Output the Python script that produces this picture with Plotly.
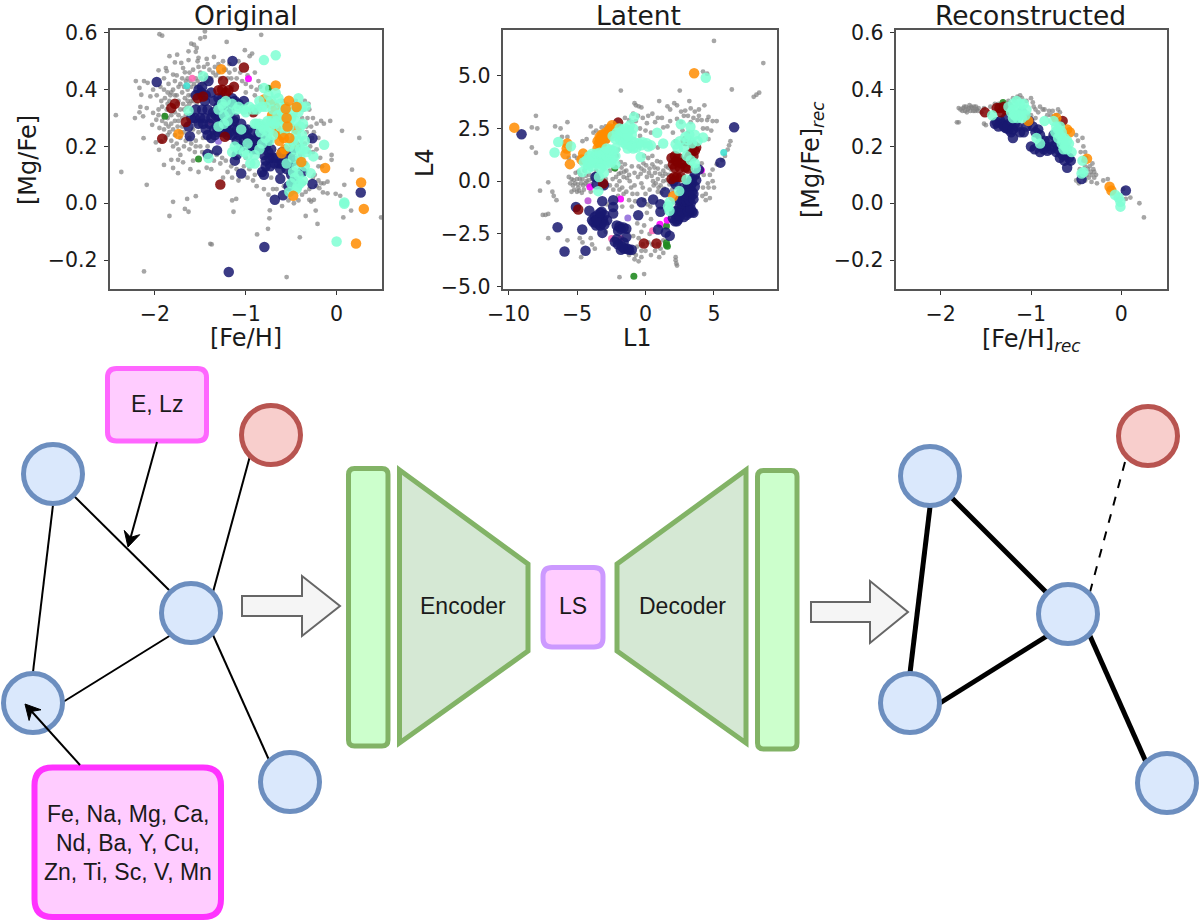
import math
import plotly.graph_objects as go

W, H = 1200, 922

# ---------- Panel 1: Original ([Fe/H], [Mg/Fe]) ----------
orig_gray = [(-2.12,-0.24),(-0.55,-0.26),(-1.375,-0.145),(-1.39,-0.143),(-2.43,0.31),(-2.37,0.11),(-2.09,0.065),(-1.8,0.005),(-1.84,-0.045),(-1.645,0.015),(-1.55,0.025),(-1.67,-0.02),(-1.63,-0.03),(-1.15,0.01),(-1.105,0.015),(-1.135,-0.03),(-0.875,-0.11),(-0.755,-0.09),(-0.735,-0.025),(-0.74,-0.053),(-0.405,-0.12),(-0.34,-0.045),(-0.21,-0.073),(-0.23,-0.026),(0.074,-0.05),(0.16,-0.026),(0.49,-0.05),(0.25,0.23),(0.06,0.255),(-0.07,0.29),(-0.14,0.28),(-0.17,0.29),(-0.055,0.17),(-0.055,0.153),(0.085,0.065),(0.17,0.118),(-0.01,0.033),(0.04,0.026),(-0.15,0.038),(-0.1,0.035),(-0.14,0.07),(-0.1,0.076),(-0.19,0.053),(-0.25,0.012),(-0.3,0.012),(-0.28,0.006),
(-1.95,0.595),(-1.92,0.59),(-1.45,0.605),(-1.5,0.58),(-1.45,0.585),(-1.21,0.568),(-0.83,0.593),(-1.6,0.562),(-1.57,0.558),(-1.54,0.547),(-1.55,0.533),(-1.63,0.535),(-1.755,0.523),(-1.84,0.518),(-1.01,0.539),(-0.93,0.527),(-0.957,0.518),(-1.35,0.515),(-1.43,0.508),(-1.52,0.512),(-1.53,0.5),(-1.63,0.504),(-1.71,0.494),(-1.78,0.496),(-1.88,0.476),(-1.96,0.468),(-1.87,0.465),(-1.8,0.453),(-1.69,0.476),(-1.67,0.461),(-2.21,0.43),(-2.12,0.43),(-2.17,0.406),(-2.08,0.424),(-2.02,0.4),(-2.15,0.382),(-2.05,0.376),(-2.16,0.339),(-2.09,0.335),(-2.17,0.32),(-2.22,0.3),(-2.13,0.306),(-2.02,0.318),(-1.985,0.294),(-2.03,0.276),(-1.95,0.265),(-2.125,0.229),(-1.99,0.214),(-1.93,0.218),(-1.955,0.188),(-1.9,0.135),(-1.82,0.153),(-1.745,0.153),(-1.69,0.144),(-1.8,0.124),(-1.745,0.106),(-1.61,0.12),(-1.52,0.11),(-1.43,0.125),
(-1.98,0.38),(-1.94,0.41),(-1.9,0.44),(-1.85,0.42),(-1.82,0.39),(-1.78,0.43),(-1.74,0.41),(-1.7,0.44),(-1.66,0.43),(-1.62,0.46),(-1.58,0.47),(-1.55,0.44),(-1.5,0.46),(-1.46,0.48),(-1.4,0.47),(-1.36,0.46),(-1.3,0.49),(-1.25,0.5),(-1.18,0.46),(-1.12,0.47),(-1.08,0.5),(-1.04,0.43),(-0.98,0.45),(-0.9,0.46),(-0.86,0.43),(-0.84,0.41),
(-1.93,0.36),(-1.89,0.37),(-1.86,0.35),(-1.83,0.38),(-1.78,0.38),(-1.74,0.36),(-1.7,0.39),(-1.67,0.37),(-1.63,0.38),(-1.6,0.41),(-1.56,0.39),(-1.72,0.33),(-1.69,0.35),(-1.65,0.34),(-1.62,0.35),(-1.58,0.36),(-1.9,0.31),(-1.86,0.3),(-1.82,0.31),(-1.78,0.29),(-1.74,0.31),(-1.7,0.3),(-1.75,0.27),(-1.8,0.26),(-1.85,0.27),(-1.9,0.26),(-1.88,0.23),(-1.82,0.22),(-1.78,0.24),(-1.72,0.23),(-1.68,0.25),(-1.62,0.23),(-1.58,0.26),(-1.55,0.22),(-1.68,0.2),(-1.62,0.19),(-1.56,0.18),(-1.74,0.19),(-1.8,0.2),(-1.5,0.2),(-1.47,0.23),(-1.45,0.17),(-1.35,0.15),(-1.28,0.14),(-1.2,0.11),(-1.25,0.09),(-1.15,0.09),(-1.08,0.08),(-0.98,0.09),(-0.92,0.08),(-0.88,0.06),(-0.85,0.11),
(-0.3,0.33),(-0.26,0.3),(-0.22,0.28),(-0.25,0.25),(-0.2,0.23),(-0.3,0.18),(-0.22,0.19),(-0.18,0.16),(-0.16,0.13),(-0.2,0.13),(-0.24,0.1),(-0.26,0.09),(-0.2,0.08),(-0.17,0.07),(-0.22,0.06),(-0.3,0.05),(-0.34,0.04),(-0.38,0.03),(-0.42,0.01),(-0.47,0.0),(-0.53,0.01),(-0.6,-0.01),(-0.66,0.05),(-0.58,0.06),(-0.36,0.07),(-0.75,0.03),(-0.8,0.05),(-1.0,0.16),(-1.15,0.41),(-1.2,0.44),(-1.0,0.39),(-0.9,0.38),(-0.75,0.36),(-0.6,0.36),(-0.45,0.36),(-0.4,0.35),(-0.38,0.3),(-0.33,0.27),(-0.3,0.22),(-0.35,0.21),(-0.34,0.14),(-0.4,0.17),
(-1.96,0.33),(-1.92,0.34),(-1.87,0.33),(-1.84,0.36),(-1.8,0.4),(-1.76,0.38),(-1.72,0.42),(-1.68,0.41),(-1.64,0.4),(-1.61,0.43),(-1.57,0.42),(-1.53,0.43),(-1.49,0.44),(-1.44,0.45),(-1.38,0.44),(-1.33,0.45),(-1.28,0.44),(-1.22,0.47),(-1.16,0.44),(-1.1,0.44),(-1.06,0.46),(-1.0,0.42),(-0.94,0.41),(-0.88,0.4),(-1.24,0.47),(-1.3,0.46),(-1.42,0.49),(-1.48,0.42),(-1.54,0.41),(-1.6,0.38),(-1.54,0.35),(-1.6,0.33),(-1.66,0.31),(-1.63,0.28),(-1.59,0.31),(-1.55,0.28),(-1.52,0.25),(-1.7,0.27),(-1.72,0.25),(-1.76,0.21),(-1.66,0.22),(-1.6,0.21),(-1.55,0.2),(-1.48,0.18),(-1.42,0.2),(-1.38,0.18),(-1.32,0.17),(-1.26,0.16),(-1.22,0.15),(-1.16,0.13),(-1.1,0.12),(-1.02,0.13),(-0.96,0.12),(-0.9,0.1),(-1.84,0.25),(-1.78,0.32),(-1.74,0.29),(-1.92,0.29),(-1.88,0.28),(-1.96,0.31),(-1.82,0.28),(-1.86,0.24),(-1.76,0.35),(-1.68,0.33),(-1.64,0.36),(-1.6,0.36),
(-0.32,0.3),(-0.28,0.27),(-0.27,0.23),(-0.29,0.2),(-0.26,0.18),(-0.33,0.25),(-0.36,0.33),(-0.31,0.35),(-0.35,0.36),(-1.9,0.4),(-1.86,0.39),(-1.76,0.45),(-1.64,0.44),(-1.52,0.48),(-1.42,0.43),(-1.34,0.48),(-1.18,0.49),(-1.72,0.17),(-1.58,0.15),(-1.38,0.12),(-0.7,0.05),(-0.72,0.09)]
orig_navy = [(-1.98,0.427),(-1.146,0.501),(-1.615,0.236),(-1.63,0.27),(-1.42,0.173),(-1.316,0.186),(-1.05,0.105),(-0.68,0.012),(-0.59,0.028),(-0.795,-0.154),(-1.187,-0.242),(0.266,0.038),(-0.266,0.068),(-0.266,0.229),(-0.62,0.086),(-1.52,0.4),(-1.49,0.39),(-1.41,0.43),(-1.38,0.39),(-1.3,0.37),(-1.45,0.36),(-1.55,0.33),(-1.5,0.3),(-1.6,0.3),(-1.45,0.3),(-1.4,0.28),(-1.35,0.26),(-1.38,0.23),(-1.3,0.3),(-1.25,0.33),(-1.15,0.37),(-1.08,0.35),(-1.2,0.28),(-1.15,0.27),(-1.1,0.26),(-1.2,0.24),(-1.1,0.22),(-1.0,0.24),(-1.05,0.2),(-0.95,0.2),(-0.98,0.26),(-0.92,0.25),(-0.85,0.27),(-0.83,0.22),(-0.78,0.2),(-0.8,0.17),(-0.78,0.15),(-0.73,0.13),(-0.68,0.14),(-0.63,0.14),(-0.82,0.11),(-0.8,0.1),(-0.6,0.18),(-0.55,0.16),(-0.5,0.18),(-0.45,0.2),(-1.12,0.15),(-1.1,0.17),(-1.3,0.34),(-1.25,0.25),(-1.42,0.33),(-1.33,0.31),(-1.47,0.28),(-1.36,0.32),(-1.28,0.28),(-1.23,0.3),(-1.18,0.33),(-1.12,0.3),(-1.05,0.28),(-1.02,0.22),(-0.9,0.22),(-0.88,0.19),(-0.75,0.18),(-0.7,0.16),(-0.5,0.1),(-0.47,0.08),(-0.38,0.11),(-0.55,0.12),(-0.53,0.06),
(-1.55,0.38),(-1.48,0.41),(-1.44,0.38),(-1.35,0.36),(-1.26,0.37),(-1.2,0.36),(-1.12,0.36),(-1.02,0.36),(-1.56,0.3),(-1.52,0.28),(-1.48,0.33),(-1.38,0.3),(-1.44,0.26),(-1.42,0.24),(-1.32,0.27),(-1.34,0.24),(-1.3,0.25),(-1.26,0.29),(-1.22,0.27),(-1.18,0.25),(-1.15,0.24),(-1.13,0.29),(-1.08,0.24),(-1.05,0.25),(-1.02,0.26),(-0.97,0.23),(-0.93,0.22),(-0.92,0.19),(-0.86,0.24),(-0.8,0.24),(-0.76,0.22),(-0.74,0.16),(-0.72,0.19),(-0.78,0.13),(-0.66,0.16),(-0.6,0.14),(-0.56,0.14),(-0.52,0.14),(-0.47,0.15),(-0.62,0.12)]
orig_maroon = [(-1.02,0.478),(-1.78,0.35),(-1.82,0.335),(-1.66,0.286),(-1.92,0.227),(-1.28,0.066),(-1.23,0.234),(-0.917,0.32),(-1.25,0.43),(-1.3,0.398),(-1.19,0.398),(-1.13,0.41),(-1.53,0.37),(-1.47,0.376),(-1.22,0.39),(-1.26,0.4)]
orig_orange = [(-1.74,0.244),(-0.67,0.415),(-0.126,0.124),(0.27,0.073),(0.3,-0.02),(0.214,-0.142),(-0.8,0.365),(-0.71,0.31),(-0.65,0.247),(-0.47,0.21),(-0.73,0.35),(-0.68,0.34),(-0.61,0.3),(-0.63,0.22),(-0.57,0.19),(-0.44,0.26),(-0.76,0.36),(-0.7,0.28),(-0.66,0.26),(-0.6,0.24)]
orig_aqua = [(-0.67,0.521),(-0.8,0.504),(-1.47,0.447),(-0.137,0.206),(-0.255,0.165),(-0.285,0.106),(0.085,0.003),(0.085,-0.002),(0,-0.135),(-1.41,0.159),(-1.63,0.326),(-0.8,0.406),(-0.67,0.388),(-0.34,0.341),(-1.24,0.31),(-1.24,0.28),(-1.26,0.35),(-1.22,0.36),(-1.15,0.35),(-1.08,0.34),(-1.02,0.33),(-0.96,0.34),(-0.88,0.33),(-0.82,0.34),(-1.05,0.26),(-0.85,0.28),(-0.82,0.27),(-0.78,0.28),(-0.75,0.25),(-0.72,0.29),(-0.68,0.28),(-0.65,0.31),(-0.62,0.27),(-0.58,0.3),(-0.55,0.28),(-0.5,0.3),(-0.45,0.29),(-0.42,0.32),(-0.4,0.27),(-0.38,0.24),(-0.45,0.24),(-0.48,0.22),(-0.35,0.22),(-0.33,0.18),(-0.4,0.19),(-0.48,0.16),(-0.44,0.13),(-0.42,0.1),(-0.4,0.07),(-0.43,0.06),(-0.5,0.07),(-0.48,0.11),(-0.55,0.14),(-1.12,0.2),(-1.15,0.18),(-1.08,0.19),(-0.98,0.17),(-0.95,0.14),(-0.9,0.14),(-0.85,0.19),(-0.7,0.33),(-0.62,0.35),(-0.56,0.34),(-0.75,0.38),
(-0.88,0.28),(-0.84,0.25),(-0.8,0.26),(-0.76,0.29),(-0.73,0.27),(-0.7,0.24),(-0.66,0.29),(-0.6,0.32),(-0.57,0.25),(-0.52,0.27),(-0.48,0.32),(-0.44,0.34),(-0.38,0.34),(-0.37,0.28),(-0.42,0.22),(-0.36,0.19),(-0.4,0.16),(-0.46,0.19),(-0.52,0.2),(-0.58,0.32),(-0.64,0.37),(-0.72,0.36),(-0.78,0.34),(-0.85,0.36),(-0.92,0.33),(-1.0,0.32),(-1.1,0.33),(-1.18,0.32),(-1.25,0.34),(-1.3,0.33),(-0.98,0.21),(-1.02,0.18),(-0.9,0.17),(-0.82,0.21),(-0.74,0.22),(-0.46,0.09),(-0.44,0.05),(-0.52,0.04),(-0.37,0.08),(-0.35,0.13),(-1.2,0.29),(-1.3,0.27),(-0.9,0.28),(-0.78,0.23),(-0.42,0.37)]
orig_orange_top = [(-1.27,0.472),(-0.477,0.026),(-0.388,0.145),(-0.606,0.176),(-0.525,0.361),(-0.44,0.339),(-0.56,0.333),(-0.54,0.27),(-0.58,0.23),(-0.52,0.23),(-0.55,0.3)]
orig_green = [(-1.89,0.306),(-1.52,0.156),(-0.75,0.405)]
orig_magenta = [(-0.97,0.438),(-0.72,0.165)]
orig_pink = [(-1.59,0.44),(-1.38,0.285)]
orig_turq = [(-1.65,0.414)]
orig_purple = [(-1.3,0.218)]

# ---------- Panel 2: Latent (L1, L4) ----------
lat_gray = [(5.0,6.65),(-1.8,4.3),(2.5,4.3),(6.3,4.35),(7.9,4.0),(8.1,4.1),(8.3,4.2),(8.6,5.6),(4.2,5.2),(4.5,5.1),(-8.0,3.1),(-8.3,2.55),(-7.9,2.5),(-8.3,1.6),(-8.0,1.35),(-6.6,2.6),(-6.2,2.5),(-6.1,2.1),(-5.7,2.1),(-5.7,2.8),(-5.6,1.1),(-5.2,1.2),(-5.0,1.1),
(-4.9,0.45),(-5.1,0.4),(-5.4,0.1),(-5.5,-0.1),(-5.3,-0.2),(-5.2,-0.4),(-5.4,-0.5),(-5.0,-0.5),(-4.9,-0.3),(-4.7,-0.1),(-4.6,0.1),(-4.5,-0.4),(-4.8,0.1),(-4.4,-0.1),(-5.0,0.1),(-4.3,0.0),(-4.1,0.3),(-3.9,0.1),(-3.6,0.5),(-4.2,-0.2),(-4.0,-0.5),
(-7.1,-0.05),(-7.7,-0.45),(-7.5,-1.6),(-7.3,-1.6),(-7.1,-1.55),(-6.8,-0.5),(-6.7,-0.7),(-6.5,-0.9),(-7.1,-2.7),(-5.7,-2.8),(-4.8,-2.7),(-4.6,-2.9),(-4.0,-2.7),(-3.9,-3.0),(-4.7,-3.6),(-3.7,-3.2),(-2.9,-2.4),(-1.9,-4.55),(-0.8,-3.7),(-0.5,-3.8),(-0.3,-3.6),(0.0,-3.3),(0.4,-3.5),(0.7,-3.3),(0.9,-3.0),(-0.1,-4.4),(2.2,-3.75),(2.25,-3.9),(2.3,-4.0),(2.2,-3.6),(1.0,-3.6),(1.3,-3.4),
(-1.0,2.8),(-0.8,3.7),(-0.7,3.6),(-0.5,3.55),(-0.3,3.5),(-0.9,3.2),(-0.55,3.1),(-0.2,3.0),(0.2,3.1),(0.5,3.2),(0.9,3.0),(1.2,3.0),(1.0,3.8),(1.6,3.55),(1.8,3.4),(2.1,3.7),(2.3,3.6),(2.6,3.3),(3.2,3.8),(3.3,3.45),(3.6,3.3),(3.9,3.4),(4.3,3.6),(2.8,3.1),(3.1,3.1),(3.5,3.0),(3.8,2.9),(4.1,2.9),(4.5,2.9),(4.9,2.85),(5.2,2.85),(2.6,2.8),(3.3,2.8),(4.5,2.5),(4.8,2.4),(4.6,2.0),(6.1,1.7),(6.2,1.9),(6.0,1.5),(5.8,1.2),(5.6,1.0),(5.2,0.8),(4.9,0.55),(4.7,0.3),(4.9,0.0),(5.0,-0.3),(4.6,-0.3),(4.4,-0.6),(4.4,-0.9),
(-3.0,1.9),(-3.3,2.3),(-3.8,2.3),(-4.0,2.6),(-2.9,2.6),(-4.3,2.0),(-4.6,1.9),(-2.4,1.3),(-2.0,1.5),(-2.1,1.2),(-1.8,0.9),(-1.5,0.8),(-1.8,0.4),(-1.6,0.2),(-1.9,0.0),(-2.1,-0.2),(-2.4,0.1),(-2.6,0.5),(-2.2,0.55),(-1.7,-0.3),(-1.4,-0.5),(-1.2,-0.9),(-1.0,-1.2),(-1.4,0.5),(-1.2,0.3),(-1.0,0.7),(-0.8,0.4),(-0.5,0.7),(-0.3,0.6),(-0.1,0.5),(0.1,0.2),(0.3,0.6),(0.5,0.8),(0.7,0.4),(0.9,0.6),(1.1,0.9),(1.3,0.5),(1.5,0.7),(1.7,0.3),(1.9,0.0),(0.9,0.1),(1.3,0.0),(0.6,-0.2),(0.3,-0.4),(0.0,-0.6),(-0.2,-0.3),(0.9,-0.5),(1.1,-0.2),(-0.6,-0.6),(-0.8,-0.2),(1.9,1.0),(2.2,1.9),(2.0,2.3),(1.6,2.6),(0.9,1.6),(0.4,2.3),(0.0,2.4),(-0.4,2.5),(-0.1,1.2),(0.2,1.1),(0.5,1.2),(-0.6,-2.0),(-0.3,-2.4),(0.1,-1.5),(0.4,-1.8),(0.3,-2.5),(-0.9,-2.6),(-0.6,-3.1),(-0.2,-3.0),(1.3,-2.8),(-2.7,-3.2),(-1.7,-1.2),(-1.3,-2.4),(-2.8,-1.1),(-3.3,-0.3),(-2.9,0.1),(3.8,0.2),(4.2,-0.3),(4.7,-0.8),(4.1,0.85),(2.7,2.4),(3.1,2.3),
(-5.6,0.2),(-5.25,0.05),(-5.15,-0.1),(-4.95,-0.15),(-4.75,0.3),(-4.55,-0.2),(-4.35,0.25),(-4.15,0.05),(-3.95,-0.15),(-3.75,0.3),(-3.55,0.2),(-4.85,-0.45),(-4.65,-0.55),(-4.45,0.5),(-2.6,-0.2),(-2.35,-0.4),(-2.15,0.2),(-1.95,0.35),(-1.75,0.65),(-1.55,0.45),(-1.35,0.15),(-1.15,0.0),(-1.05,-0.3),(-0.95,-0.6),(-0.75,-0.95),(-0.55,0.2),(-0.35,0.35),(-0.15,0.85),(0.05,0.75),(0.25,0.4),(0.45,0.25),(0.65,0.65),(0.85,0.95),(1.05,0.35),(1.25,0.25),(1.45,0.35),(1.65,0.65),(1.85,0.55),(0.55,0.0),(0.75,-0.1),(0.95,-0.3),(1.15,-0.55),(1.35,-0.35),(1.55,0.05),(1.75,-0.15),(-1.6,-0.6),(-1.9,-0.4),(-2.0,-0.7),(-0.3,-0.1),(-0.1,-0.9),(0.15,-1.1),(0.35,-1.2),(-0.4,2.15),(-0.7,2.85),(0.1,2.75),(0.7,2.8),(1.3,2.55),(1.8,2.85),(2.3,2.95),(2.9,3.35),(4.2,2.5),(4.6,3.05),(3.9,3.1),(-1.2,2.9),(-1.5,3.0),(-2.8,1.9),(-3.6,2.4),(-3.2,2.55),(-1.8,-2.8),(-0.5,-2.7),(-0.1,-2.1),(0.5,-3.0),(1.1,-3.2),(-1.2,-3.5),(-0.9,-3.4),(-0.7,-3.5),(-0.3,-3.3),(0.2,-2.9),(2.05,-1.0),(1.85,-1.5),(1.95,-0.4),(4.25,0.3),(4.55,-0.1),(4.15,-0.7)]
lat_navy = [(-9.05,2.23),(6.47,2.56),(5.47,0.88),(-5.08,-1.22),(-4.1,-1.4),(-6.42,-2.18),(-4.62,-2.29),(-5.91,-3.33),(-4.38,-3.3),(-3.16,-0.95),(-3.04,-0.19),(-3.65,0.2),(-3.57,-0.14),(-2.36,-0.9),(-2.36,-1.22),(-2.36,-1.53),(-0.29,-1.0),(-0.53,-1.61),(0.56,-0.87),(1.09,-1.09),(1.09,-1.45),(1.43,-0.52),(0.92,-2.29),(1.48,-2.43),(1.77,-2.59),(-2.24,-2.87),(-2.0,-3.0),(-1.8,-3.25),(-1.3,-3.2),(-1.0,-3.25),(-2.0,-2.35),(-1.8,-2.25),(-1.4,-2.25),(-1.4,-2.65),(-2.1,-2.1),
(-3.9,-1.85),(-3.7,-1.7),(-3.5,-1.6),(-3.3,-1.7),(-3.1,-1.85),(-3.5,-2.0),(-3.3,-2.1),(-3.6,-2.1),(-3.2,-1.45),(-3.0,-1.6),(-2.8,-1.85),(-3.15,-2.45),(-1.6,-2.9),(-1.55,-3.2),
(2.2,-1.6),(2.4,-1.8),(2.6,-1.5),(2.8,-1.7),(3.0,-1.6),(3.2,-1.5),(3.4,-1.45),(2.3,-1.4),(2.5,-1.2),(2.7,-1.2),(2.9,-1.1),(3.1,-1.2),(2.5,-0.9),(2.7,-0.8),(2.9,-0.7),(3.1,-0.8),(3.3,-0.75),(3.4,-0.5),(3.2,-0.35),(3.0,-0.4),(2.8,-0.3),(3.4,-0.1),(3.6,-0.25),(3.4,0.1),(3.7,0.05),(3.9,0.55),(2.6,-0.55),(2.3,-1.9),(2.0,-1.75),(2.9,-1.35),(3.5,-1.5),(3.3,-1.05),(2.2,-0.15),(2.05,0.0),
(2.1,-1.45),(2.15,-1.9),(2.5,-1.65),(2.7,-1.45),(3.1,-1.4),(3.3,-1.3),(2.6,-1.05),(2.8,-0.95),(3.0,-0.95),(3.2,-0.9),(3.0,-0.6),(3.2,-0.55),(3.5,-0.6),(3.5,-0.85),(3.3,-0.2),(3.1,-0.1),(3.6,0.3),(-3.8,-1.95),(-3.4,-1.85),(-3.2,-2.0),(-3.0,-2.05),(-3.6,-1.85),(-3.3,-1.5),(-1.2,-3.25),(-1.7,-3.1),(-2.1,-2.75),(-1.9,-2.15),(-1.6,-2.2)]
lat_maroon = [(-4.91,-1.34),(-0.12,-2.95),(0.8,-2.95),(-2,2.78),(2.94,1.91),(-3.09,-0.11),(1.9,1.1),(2.15,1.2),(2.25,0.95),(2.5,0.65),(2.9,0.65),(3.1,0.6),(3.5,1.2),(3.6,1.45),(3.7,1.6),(1.9,0.1),(2.3,0.2),(2.6,0.2),(2.15,0.65),(3.2,1.15),(2.6,0.85),(2.0,0.8),(2.4,1.1),(2.8,0.9),(3.3,1.3),(3.5,1.7),(2.1,0.2)]
lat_orange = [(-9.58,2.54),(3.55,5.12),(-5.71,1.79),(-5.84,1.28),(-5.52,0.81),(-4.55,1.31),(-4.67,1.03),(-3.5,1.55),(-3.4,1.8),(-3.3,2.0),(-3.2,1.7),(-3.1,2.1),(-3.0,2.2),(-2.9,2.3),(-2.7,2.4),(-2.6,2.5),(-2.45,2.65),(-2.8,2.2),(-3.4,1.4),(2.02,-0.71),(-5.75,1.55),(-3.5,1.9),(-3.2,2.2),(-2.9,2.0),(-2.6,2.2),(-3.35,2.1),(-2.35,2.45),(-2.1,2.5)]
lat_aqua = [(4.4,4.91),(-6.37,1.86),(-6.64,1.36),(-5.45,1.66),(-4.62,0.44),(-3.04,0.4),(-3.45,-0.47),(-4.5,0.9),(-4.3,1.0),(-4.1,1.2),(-4.0,0.95),(-3.9,1.3),(-3.7,1.1),(-3.6,0.85),(-3.5,1.2),(-3.3,1.05),(-3.1,1.15),(-2.9,1.0),(-2.7,1.15),(-2.4,1.1),(-2.2,1.2),(-2.2,0.8),(-4.2,0.6),(-3.0,1.4),(-0.83,3.05),(-1.14,2.65),(-1.9,2.5),(-1.7,2.4),(-1.4,2.3),(-1.2,2.4),(-1.6,2.15),(-1.4,1.95),(-1.2,1.75),(-1.0,1.9),(-1.3,1.55),(-0.8,1.85),(-0.5,1.8),(-0.2,1.85),(0.1,1.8),(0.4,1.7),(-0.35,1.15),(0.85,2.3),(1.29,1.79),(2.58,2.7),(3.28,2.58),(4.2,2.07),(2.2,1.75),(2.5,1.9),(2.8,1.6),(3.1,1.95),(3.4,1.8),(3.0,1.2),(3.3,1.0),(3.6,0.85),(2.99,0.08),(3.67,0.6),(2.46,-0.46),(1.77,-0.98),(1.65,-1.2),(-2.1,2.3),(1.75,-1.4),
(-4.2,0.8),(-3.95,0.7),(-3.75,0.9),(-3.5,0.95),(-3.25,0.8),(-3.0,0.75),(-2.75,0.85),(-2.5,0.9),(-3.85,1.05),(-3.6,1.3),(-3.35,1.35),(-3.15,1.3),(-2.85,1.2),(-2.6,1.35),(-2.35,1.45),(-2.2,1.55),(-2.6,1.5),(-2.85,1.55),(-1.9,2.2),(-1.85,1.95),(-1.65,1.85),(-1.45,1.75),(-1.05,1.65),(-0.9,1.55),(-0.65,1.6),(-0.3,1.7),(0.2,1.65),(-1.0,2.2),(-1.3,2.15),(-1.5,2.5),(-0.9,2.5),(-2.4,2.15),(-2.2,2.0),(2.35,1.55),(2.9,2.1),(3.2,2.2),(3.6,2.2),(3.8,1.9),(-3.3,0.6),(-3.4,0.2)]
lat_green = [(-0.85,-4.5),(1.53,-3.03),(1.6,-3.08),(1.53,-2.92),(1.53,-2.12),(-2.24,0.63)]
lat_magenta = [(-1.82,-0.84),(1.58,-1.85),(1.05,-2.04),(4.08,0.52),(-4.06,-0.27)]
lat_pink = [(0.51,-2.35),(-1.8,-2.73),(-2.48,-2.72)]
lat_turq = [(5.71,1.36)]
lat_purple = [(-1.29,-1.74)]
lat_orchid = [(-4.2,-0.93)]

# ---------- Panel 3: Reconstructed ----------
rec_gray = [(-1.75,0.335),(-1.73,0.325),(-1.72,0.34),(-1.7,0.33),(-1.68,0.345),(-1.67,0.325),(-1.65,0.335),(-1.63,0.34),(-1.62,0.325),(-1.6,0.33),(-1.58,0.335),(-1.78,0.33),(-1.82,0.285),(-1.8,0.285),(-1.55,0.32),(-1.52,0.335),(-1.4,0.35),(-1.36,0.35),(-1.3,0.35),(-1.2,0.37),(-1.15,0.375),(-1.12,0.38),(-1.1,0.37),(-1.05,0.36),(-1.0,0.37),(-0.98,0.355),(-0.95,0.33),(-0.9,0.34),(-0.87,0.33),(-0.85,0.33),(-0.8,0.325),(-0.76,0.325),(-0.72,0.31),(-1.03,0.31),(-1.0,0.31),(-0.95,0.3),(-1.5,0.275),(-1.52,0.28),(-0.5,0.24),(-0.48,0.22),(-0.43,0.23),(-0.42,0.2),(-0.45,0.18),(-0.4,0.18),(-0.39,0.16),(-0.35,0.13),(-0.32,0.14),(-0.31,0.12),(-0.3,0.11),(-0.33,0.1),(-0.28,0.1),(-0.3,0.09),(-0.36,0.09),(-0.38,0.1),(-0.4,0.08),(-0.33,0.075),(-0.27,0.07),(-0.2,0.08),(-0.15,0.085),(-0.5,0.08),(-0.47,0.07),(0.1,0.02),(0.05,0.015),(0.2,0.0),(0.25,-0.05),(0.02,0.05),(-0.75,0.3),(-0.7,0.33),(-0.68,0.32),
(-1.76,0.325),(-1.74,0.34),(-1.71,0.32),(-1.69,0.335),(-1.66,0.34),(-1.64,0.325),(-1.61,0.34),(-1.59,0.325),(-1.8,0.335),(-1.45,0.34),(-1.25,0.36),(-1.18,0.36),(-0.92,0.32),(-0.82,0.31),(-0.78,0.31),(-0.97,0.34),(-0.4,0.13),(-0.37,0.12),(-0.34,0.11),(-0.42,0.15),(-0.46,0.12)]
rec_navy = [(-1.4,0.28),(-1.36,0.27),(-1.32,0.28),(-1.28,0.265),(-1.25,0.26),(-1.22,0.25),(-1.2,0.23),(-1.18,0.28),(-1.12,0.25),(-1.08,0.25),(-1.02,0.29),(-0.98,0.27),(-0.92,0.26),(-0.9,0.24),(-0.85,0.22),(-1.0,0.2),(-0.96,0.19),(-0.88,0.2),(-0.83,0.2),(-0.78,0.19),(-0.75,0.24),(-0.72,0.18),(-0.68,0.16),(-0.62,0.17),(-0.58,0.16),(-0.56,0.15),(-0.6,0.125),(-0.44,0.085),(0.05,0.045),(-1.28,0.3),(-1.1,0.32),(-1.34,0.29),(-1.24,0.28),(-0.8,0.22),(-0.72,0.21),(-0.9,0.18),(-0.65,0.17),(-1.15,0.27),(-1.05,0.27),(-1.38,0.285),(-1.3,0.27),(-1.26,0.27),(-1.2,0.26),(-0.86,0.19),(-0.82,0.185),(-0.76,0.2),(-0.7,0.19),(-0.63,0.15),(-0.95,0.25)]
rec_maroon = [(-1.51,0.32),(-1.35,0.335),(-1.3,0.34),(-1.33,0.32),(-1.25,0.34),(-1.28,0.33),(-1.38,0.335),(-0.65,0.29)]
rec_orange = [(-1.03,0.29),(-0.6,0.26),(-0.57,0.25),(-0.38,0.157),(-0.13,0.058),(-0.11,0.045),(-0.72,0.3)]
rec_aqua = [(-1.43,0.31),(-1.25,0.34),(-1.2,0.35),(-1.15,0.33),(-1.12,0.35),(-1.1,0.32),(-1.05,0.33),(-1.18,0.31),(-1.1,0.3),(-1.15,0.3),(-1.22,0.32),(-0.85,0.29),(-0.75,0.29),(-0.7,0.26),(-0.68,0.24),(-0.65,0.22),(-0.62,0.2),(-0.6,0.19),(-0.58,0.21),(-0.55,0.18),(-0.72,0.27),(-0.66,0.25),(-0.63,0.23),(-0.94,0.23),(-0.9,0.21),(-0.43,0.15),(-0.42,0.11),(-0.44,0.105),(-0.07,0.03),(-0.03,0.02),(-0.01,0.005),(-0.01,-0.012),(-1.2,0.33),(-1.16,0.36),(-1.08,0.35),(-1.13,0.31),(-1.06,0.31),(-1.2,0.3),(-0.7,0.23),(-0.66,0.21),(-0.73,0.25),(-0.68,0.27),(-0.64,0.19),(-0.6,0.22)]
rec_green = [(-1.31,0.355)]

# ---------- Axis annotation text ----------
panel_titles = ["Original", "Latent", "Reconstructed"]
x_labels = ["[Fe/H]", "L1", "[Fe/H]<sub><i>rec</i></sub>"]
y_labels = ["[Mg/Fe]", "L4", "[Mg/Fe]<sub><i>rec</i></sub>"]
fe_ticks = [-2, -1, 0]
mg_ticks = [-0.2, 0.0, 0.2, 0.4, 0.6]
l1_ticks = [-10, -5, 0, 5]
l4_ticks = [-5.0, -2.5, 0.0, 2.5, 5.0]

FONT = "DejaVu Sans"
SANS = "Liberation Sans"
INK = "#1a1a1a"


def px(x):
    return x / W


def py(y):
    return 1 - y / H


fig = go.Figure()


def add_series(points, axis, color, size, opacity):
    fig.add_trace(go.Scatter(
        x=[p[0] for p in points], y=[p[1] for p in points], mode="markers",
        xaxis="x" + axis, yaxis="y" + axis, showlegend=False, hoverinfo="skip",
        marker=dict(color=color, size=size, opacity=opacity, line=dict(width=0)),
    ))


C_GRAY, C_NAVY, C_MAROON = "#808080", "#191970", "#800000"
C_ORANGE, C_AQUA, C_GREEN = "#ff8c00", "#7fffd4", "#228b22"
C_MAG, C_PINK, C_TURQ, C_PURP, C_ORCH = "#ff00ff", "#ff69b4", "#40e0d0", "#9370db", "#ba55d3"
BIG = 10.5

add_series(orig_gray, "", C_GRAY, 4.8, 0.7)
for pts, col in [(orig_green, C_GREEN), (orig_magenta, C_MAG), (orig_pink, C_PINK), (orig_turq, C_TURQ), (orig_purple, C_PURP)]:
    add_series(pts, "", col, 7, 0.9)
add_series(orig_navy, "", C_NAVY, BIG, 0.85)
add_series(orig_maroon, "", C_MAROON, BIG, 0.85)
add_series(orig_orange, "", C_ORANGE, BIG, 0.85)
add_series(orig_aqua, "", C_AQUA, BIG, 0.85)
add_series(orig_orange_top, "", C_ORANGE, BIG, 0.85)

add_series(lat_gray, "2", C_GRAY, 4.8, 0.7)
for pts, col in [(lat_green, C_GREEN), (lat_magenta, C_MAG), (lat_pink, C_PINK), (lat_turq, C_TURQ), (lat_purple, C_PURP), (lat_orchid, C_ORCH)]:
    add_series(pts, "2", col, 7, 0.9)
add_series(lat_navy, "2", C_NAVY, BIG, 0.85)
add_series(lat_maroon, "2", C_MAROON, BIG, 0.85)
add_series(lat_orange, "2", C_ORANGE, BIG, 0.85)
add_series(lat_aqua, "2", C_AQUA, BIG, 0.85)

add_series(rec_gray, "3", C_GRAY, 4.8, 0.7)
add_series(rec_green, "3", C_GREEN, 7, 0.9)
add_series(rec_navy, "3", C_NAVY, BIG, 0.85)
add_series(rec_maroon, "3", C_MAROON, BIG, 0.85)
add_series(rec_orange, "3", C_ORANGE, BIG, 0.85)
add_series(rec_aqua, "3", C_AQUA, BIG, 0.85)


def axis(domain, rng, ticks, anchor, fmt=None):
    d = dict(domain=domain, range=rng, tickmode="array", tickvals=ticks, showgrid=False, zeroline=False,
             showline=True, mirror=True, linecolor="#555555", linewidth=1.5, ticks="outside",
             ticklen=4, tickwidth=1, tickcolor="#333333", automargin=False, anchor=anchor,
             tickfont=dict(family=FONT, size=20.5, color=INK), ticklabelstandoff=2)
    if fmt:
        d["tickformat"] = fmt
    return d


fig.update_layout(
    width=W, height=H, margin=dict(l=0, r=0, t=0, b=0, autoexpand=False),
    paper_bgcolor="white", plot_bgcolor="white", showlegend=False, hovermode=False,
    xaxis=axis([px(109.5), px(382)], [-2.5, 0.5], fe_ticks, "y"),
    yaxis=axis([py(289), py(30)], [-0.302, 0.61], mg_ticks, "x", ".1f"),
    xaxis2=axis([px(502.5), px(777)], [-10.44, 9.6], l1_ticks, "y2"),
    yaxis2=axis([py(289), py(30)], [-5.11, 7.17], l4_ticks, "x2", ".1f"),
    xaxis3=axis([px(895.5), px(1166.5)], [-2.5, 0.5], fe_ticks, "y3"),
    yaxis3=axis([py(289), py(30)], [-0.302, 0.61], mg_ticks, "x3", ".1f"),
)

# ---------- Text around the panels ----------
annotations = []


def text(x, y, s, size, family=FONT, angle=0):
    annotations.append(dict(x=px(x), y=py(y), xref="paper", yref="paper", text=s, showarrow=False,
                            xanchor="center", yanchor="middle", textangle=angle,
                            font=dict(family=family, size=size, color=INK)))


for x, t in zip((245.5, 638, 1030), panel_titles):
    text(x, 15.5, t, 26.5)
for x, y, t in zip((245.5, 637.5, 1031), (338, 338, 340), x_labels):
    text(x, y, t, 24)
for x, y, t in zip((28, 425, 812), (160, 163, 160), y_labels):
    text(x, y, t, 24, angle=-90)

# ---------- Diagram ----------
shapes = []
BLUE_F, BLUE_L = "#dae8fc", "#6c8ebf"
RED_F, RED_L = "#f8cecc", "#b85450"
GREEN_F, GREEN_L = "#d5e8d4", "#82b366"
LIME_F = "#ccffcc"
NODE_R = 29.5


def line(x0, y0, x1, y1, width=2, dash="solid"):
    shapes.append(dict(type="line", xref="paper", yref="paper", x0=px(x0), y0=py(y0), x1=px(x1), y1=py(y1),
                       line=dict(color="black", width=width, dash=dash)))


def node(cx, cy, fill=BLUE_F, stroke=BLUE_L):
    shapes.append(dict(type="circle", xref="paper", yref="paper", x0=px(cx - NODE_R), x1=px(cx + NODE_R),
                       y0=py(cy + NODE_R), y1=py(cy - NODE_R), fillcolor=fill, line=dict(color=stroke, width=5)))


def path(points, fill, stroke, width):
    d = "M " + " L ".join(f"{px(a):.5f},{py(b):.5f}" for a, b in points) + " Z"
    shapes.append(dict(type="path", xref="paper", yref="paper", path=d, fillcolor=fill,
                       line=dict(color=stroke, width=width)))


def rbox(x0, y0, x1, y1, r, fill, stroke, width=5):
    def P(a, b):
        return f"{px(a):.5f},{py(b):.5f}"
    d = (f"M {P(x0 + r, y0)} L {P(x1 - r, y0)} Q {P(x1, y0)} {P(x1, y0 + r)} L {P(x1, y1 - r)} "
         f"Q {P(x1, y1)} {P(x1 - r, y1)} L {P(x0 + r, y1)} Q {P(x0, y1)} {P(x0, y1 - r)} "
         f"L {P(x0, y0 + r)} Q {P(x0, y0)} {P(x0 + r, y0)} Z")
    shapes.append(dict(type="path", xref="paper", yref="paper", path=d, fillcolor=fill,
                       line=dict(color=stroke, width=width)))


def block_arrow(x0, xb, xt, ym, shaft, head):
    path([(x0, ym - shaft), (xb, ym - shaft), (xb, ym - head), (xt, ym), (xb, ym + head), (xb, ym + shaft),
          (x0, ym + shaft)], "#f5f5f5", "#666666", 2)


def pointer(x0, y0, x1, y1):
    """Black line ending in a notched arrow head at (x1, y1)."""
    L = math.hypot(x1 - x0, y1 - y0)
    ux, uy = (x1 - x0) / L, (y1 - y0) / L
    nx, ny = -uy, ux
    line(x0, y0, x1 - ux * 6, y1 - uy * 6)
    path([(x1, y1), (x1 - ux * 15 + nx * 8, y1 - uy * 15 + ny * 8), (x1 - ux * 10, y1 - uy * 10),
          (x1 - ux * 15 - nx * 8, y1 - uy * 15 - ny * 8)], "black", "black", 1)


# left graph
line(53, 505, 33, 672)
line(74, 496, 171, 592)
line(250, 456, 213, 592)
line(171, 635, 63, 702)
line(213, 635, 269, 760)
node(53, 474)
node(271, 435, RED_F, RED_L)
node(191, 613)
node(33, 703)
node(290, 782)
rbox(107.5, 368.5, 206.5, 441, 9, "#ffccff", "#ff66ff")
rbox(34.5, 767.5, 221, 917, 18, "#ffccff", "#ff33ff", 6)
text(157, 404, "E, Lz", 23, SANS)
for y, t in zip((814, 842.5, 871.5), ("Fe, Na, Mg, Ca,", "Nd, Ba, Y, Cu,", "Zn, Ti, Sc, V, Mn")):
    text(127.5, y, t, 23, SANS)
pointer(157, 442, 128, 547)
pointer(80, 765, 25, 704)
block_arrow(242, 302, 340, 606, 10, 30)

# encoder / decoder
rbox(348.5, 468.5, 388, 746, 6, LIME_F, GREEN_L)
path([(399.5, 470), (528, 564), (528, 651), (399.5, 743)], GREEN_F, GREEN_L, 5)
rbox(543, 567.5, 603, 647, 9, "#ffccff", "#cc99ff")
path([(617, 564), (746, 470), (746, 743), (617, 651)], GREEN_F, GREEN_L, 5)
rbox(757.5, 470.5, 797, 749, 6, LIME_F, GREEN_L)
text(463, 606, "Encoder", 23, SANS)
text(572.5, 606, "LS", 23, SANS)
text(682, 606, "Decoder", 23, SANS)

# right graph
line(930, 507, 910, 673, 5)
line(951, 497, 1047, 593, 5)
line(940, 703, 1047, 636, 5)
line(1090, 636, 1146, 762, 5)
line(1125, 462, 1090, 592, 2, "dash")
node(930, 476)
node(1148, 436, RED_F, RED_L)
node(1068, 614)
node(910, 703)
node(1167, 783)
block_arrow(811, 870, 908, 612, 10, 31)

fig.update_layout(shapes=shapes, annotations=annotations)
fig.write_html("out.html", config=dict(displayModeBar=False),
               post_script="document.body.style.margin='0';document.documentElement.style.overflow='hidden';")
